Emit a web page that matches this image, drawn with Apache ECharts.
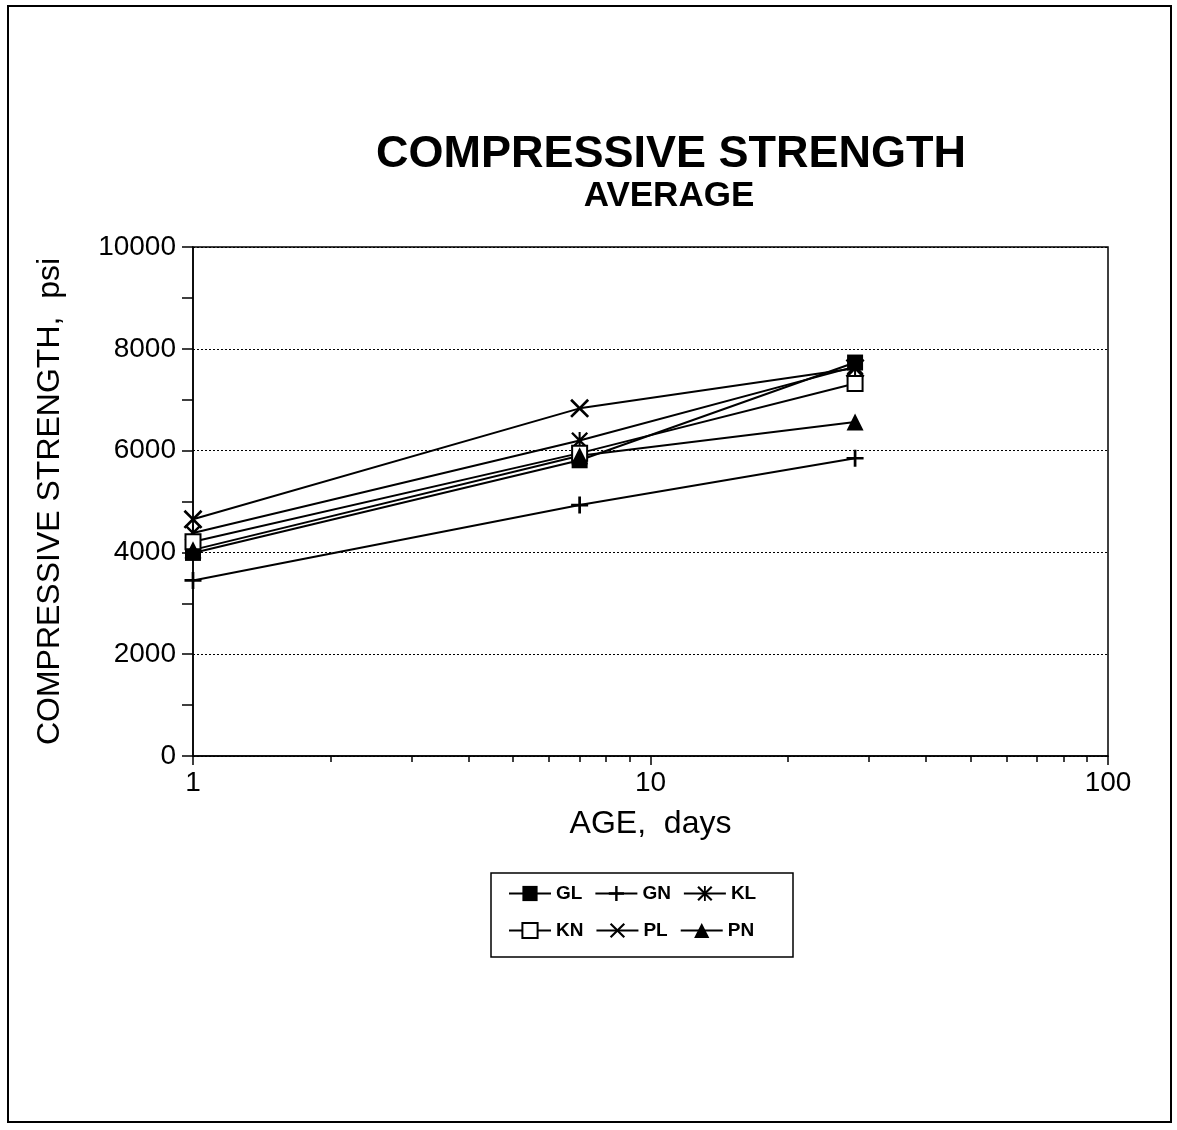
<!DOCTYPE html>
<html>
<head>
<meta charset="utf-8">
<script src="https://cdn.jsdelivr.net/npm/echarts@6/dist/echarts.min.js"></script>
<style>
html,body{margin:0;padding:0;background:#fff;}
#c{width:1177px;height:1130px;}
</style>
</head>
<body>
<div id="c"></div>
<script>
const ages = [1, 7, 28];
const seriesNames = ['GL', 'GN', 'KL', 'KN', 'PL', 'PN'];
const GL = [3990, 5810, 7730];
const GN = [3450, 4930, 5850];
const KL = [4380, 6200, 7650];
const KN = [4210, 5950, 7320];
const PL = [4650, 6830, 7620];
const PN = [4050, 5900, 6560];
const yTicks = [0, 2000, 4000, 6000, 8000, 10000];
const xTicks = [1, 10, 100];

const symbols = {
  GL: 'rect',
  GN: 'path://M4.2,0H5.8V4.2H10V5.8H5.8V10H4.2V5.8H0V4.2H4.2Z',
  KL: 'path://M0,1L1,0L5,4L9,0L10,1L6,5L10,9L9,10L5,6L1,10L0,9L4,5Z M4.4,0H5.6V10H4.4Z',
  KN: 'emptyRect',
  PL: 'path://M0,1L1,0L5,4L9,0L10,1L6,5L10,9L9,10L5,6L1,10L0,9L4,5Z',
  PN: 'triangle'
};
const sizes = {GL: 16, GN: 17, KL: 17, KN: 15, PL: 19, PN: 17};
const dataMap = {GL, GN, KL, KN, PL, PN};

const series = seriesNames.map(n => ({
  name: n,
  type: 'line',
  data: ages.map((a, i) => [a, dataMap[n][i]]),
  symbol: symbols[n],
  symbolSize: sizes[n],
  showAllSymbol: true,
  lineStyle: {color: '#000', width: 2},
  itemStyle: {color: '#000', borderColor: '#000', borderWidth: n === 'KN' ? 2 : 0},
  emphasis: {disabled: true},
  z: 3
}));

const chart = echarts.init(document.getElementById('c'), null, {renderer: 'canvas'});
const font = 'Liberation Sans, Arial, sans-serif';
chart.setOption({
  animation: false,
  backgroundColor: '#fff',
  textStyle: {fontFamily: font, color: '#000'},
  title: [
    {text: 'COMPRESSIVE STRENGTH', left: 666, top: 127, textAlign: 'center',
     textStyle: {fontSize: 45, fontWeight: 'bold', color: '#000', fontFamily: font}},
    {text: 'AVERAGE', left: 664, top: 174, textAlign: 'center',
     textStyle: {fontSize: 35, fontWeight: 'bold', color: '#000', fontFamily: font}}
  ],
  grid: {left: 193, right: 69, top: 247, bottom: 374, show: true, borderColor: '#000', borderWidth: 1.5},
  xAxis: {
    type: 'log', logBase: 10, min: 1, max: 100,
    name: 'AGE,  days', nameLocation: 'middle', nameGap: 52,
    nameTextStyle: {fontSize: 32, color: '#000', fontFamily: font},
    axisLine: {lineStyle: {color: '#000', width: 1.5}},
    axisTick: {show: true, inside: false, length: 9, lineStyle: {color: '#000', width: 1.5}},
    minorTick: {show: true, splitNumber: 9, length: 6, lineStyle: {color: '#000', width: 1.5}},
    axisLabel: {fontSize: 28, color: '#000', margin: 13, formatter: v => xTicks.includes(v) ? String(v) : ''},
    splitLine: {show: false}
  },
  yAxis: {
    type: 'value', min: 0, max: 10000, interval: 2000,
    name: 'COMPRESSIVE STRENGTH,  psi', nameLocation: 'middle', nameGap: 127,
    nameTextStyle: {fontSize: 32, color: '#000', fontFamily: font},
    axisLine: {show: true, lineStyle: {color: '#000', width: 1.5}},
    axisTick: {show: true, length: 11, lineStyle: {color: '#000', width: 1.5}},
    minorTick: {show: true, splitNumber: 2, length: 11, lineStyle: {color: '#000', width: 1.5}},
    axisLabel: {fontSize: 28, color: '#000', margin: 17, formatter: v => yTicks.includes(v) ? String(v) : ''},
    splitLine: {show: true, lineStyle: {color: '#000', type: [2, 2], width: 1}}
  },
  legend: [
    {data: ['GL', 'GN', 'KL'], left: 503, top: 879, itemWidth: 42, itemHeight: 19, itemGap: 12,
     textStyle: {fontSize: 19, fontWeight: 'bold', color: '#000', fontFamily: font}, selectedMode: false},
    {data: ['KN', 'PL', 'PN'], left: 503, top: 916, itemWidth: 42, itemHeight: 19, itemGap: 12,
     textStyle: {fontSize: 19, fontWeight: 'bold', color: '#000', fontFamily: font}, selectedMode: false}
  ],
  graphic: [
    {type: 'rect', shape: {x: 8, y: 6, width: 1163, height: 1116}, style: {fill: 'none', stroke: '#000', lineWidth: 2}, silent: true, z: -1},
    {type: 'rect', shape: {x: 491, y: 873, width: 302, height: 84}, style: {fill: 'none', stroke: '#000', lineWidth: 1.5}, silent: true}
  ],
  series: series
});
</script>
</body>
</html>
